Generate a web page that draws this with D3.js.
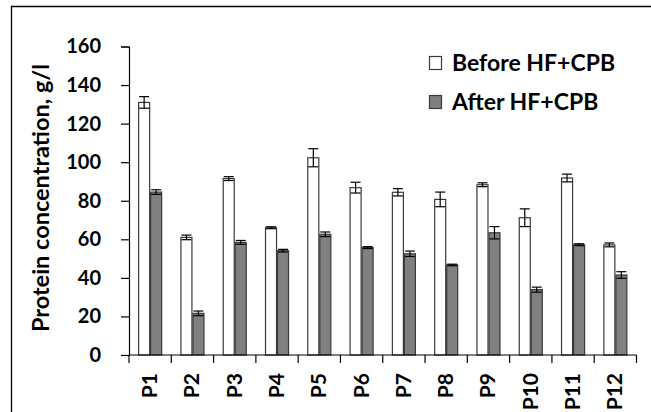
<!DOCTYPE html>
<html>
<head>
<meta charset="utf-8">
<script src="https://cdn.jsdelivr.net/npm/d3@7"></script>
<style>
  html, body { margin: 0; padding: 0; background: #fff; }
  svg { display: block; }
  text { font-family: Lato, "Open Sans", sans-serif; font-weight: bold; fill: #000; }
</style>
</head>
<body>
<svg id="chart" width="651" height="412"></svg>
<script>
// Patient samples
const categories = ["P1", "P2", "P3", "P4", "P5", "P6", "P7", "P8", "P9", "P10", "P11", "P12"];
const seriesNames = ["Before HF+CPB", "After HF+CPB"];
// Mean protein concentration, g/l
const beforeValues = [131, 61, 91.5, 66, 102.3, 86.8, 84.4, 80.7, 88.3, 71.2, 91.8, 57.1];
const afterValues  = [84.5, 21.6, 58.4, 54.1, 62.6, 55.7, 52.5, 46.7, 63.4, 33.9, 57.2, 41.5];
// Standard deviations
const beforeErrors = [3, 1.2, 1, 0.5, 4.7, 2.8, 1.9, 3.8, 1, 4.6, 2, 1];
const afterErrors  = [1.2, 1.2, 1, 0.7, 1.2, 0.5, 1.4, 0.4, 3.2, 1.3, 0.5, 1.7];
const yTicks = [0, 20, 40, 60, 80, 100, 120, 140, 160];

const fills = { "Before HF+CPB": "#ffffff", "After HF+CPB": "#808080" };

const svg = d3.select("#chart");

// outer frame
svg.append("path")
  .attr("d", "M11.5,412 L11.5,6.5 L651,6.5")
  .attr("fill", "none").attr("stroke", "#000").attr("stroke-width", 1.3);

const plot = { left: 129, right: 636.5, top: 46.5, bottom: 355 };

const x0 = d3.scaleBand().domain(categories).range([plot.left, plot.right]).padding(0);
const x1 = d3.scaleBand().domain(seriesNames).range([0, x0.bandwidth()])
  .paddingInner(0).paddingOuter(0.76);
const y = d3.scaleLinear().domain([0, 160]).range([plot.bottom, plot.top]);

const rows = categories.map((c, i) => ({
  cat: c,
  bars: [
    { s: seriesNames[0], v: beforeValues[i], e: beforeErrors[i] },
    { s: seriesNames[1], v: afterValues[i], e: afterErrors[i] }
  ]
}));

const groups = svg.append("g").selectAll("g").data(rows).join("g")
  .attr("transform", d => `translate(${x0(d.cat)},0)`);

groups.selectAll("rect").data(d => d.bars).join("rect")
  .attr("x", d => x1(d.s) + 0.5)
  .attr("width", x1.bandwidth() - 1)
  .attr("y", d => y(d.v))
  .attr("height", d => y(0) - y(d.v))
  .attr("fill", d => fills[d.s])
  .attr("stroke", "#3a3a3a")
  .attr("stroke-width", 1.2);

// error bars
const eb = groups.selectAll("g.err").data(d => d.bars).join("g").attr("class", "err")
  .attr("stroke", "#000").attr("stroke-width", 1.2).attr("fill", "none");
eb.append("line")
  .attr("x1", d => x1(d.s) + x1.bandwidth() / 2)
  .attr("x2", d => x1(d.s) + x1.bandwidth() / 2)
  .attr("y1", d => y(d.v + d.e)).attr("y2", d => y(d.v - d.e));
["+", "-"].forEach(sign => {
  eb.append("line")
    .attr("x1", d => x1(d.s) + x1.bandwidth() / 2 - 5)
    .attr("x2", d => x1(d.s) + x1.bandwidth() / 2 + 5)
    .attr("y1", d => y(sign === "+" ? d.v + d.e : d.v - d.e))
    .attr("y2", d => y(sign === "+" ? d.v + d.e : d.v - d.e));
});

// y axis
const yAxis = svg.append("g")
  .attr("transform", `translate(${plot.left},0)`)
  .call(d3.axisLeft(y).tickValues(yTicks).tickSize(8).tickPadding(20));
yAxis.select(".domain").attr("stroke", "#000").attr("stroke-width", 1.2);
yAxis.selectAll(".tick line").attr("stroke", "#000").attr("stroke-width", 1.2);
yAxis.selectAll(".tick text")
  .attr("font-size", 20).attr("font-family", "Lato, sans-serif")
  .attr("font-weight", "bold").attr("fill", "#000");

// x axis: baseline with ticks at category boundaries
const xAxis = svg.append("g").attr("transform", `translate(0,${plot.bottom})`);
xAxis.append("line")
  .attr("x1", plot.left).attr("x2", plot.right)
  .attr("stroke", "#000").attr("stroke-width", 1.2);
const boundaries = categories.map(c => x0(c)).concat([x0(categories[categories.length - 1]) + x0.bandwidth()]);
xAxis.selectAll("line.tick").data(boundaries).join("line").attr("class", "tick")
  .attr("x1", d => d).attr("x2", d => d).attr("y1", 0).attr("y2", 8)
  .attr("stroke", "#000").attr("stroke-width", 1.2);
xAxis.selectAll("text").data(categories).join("text")
  .attr("transform", d => `translate(${x0(d) + x0.bandwidth() / 2 + 7},18) rotate(-90)`)
  .attr("text-anchor", "end")
  .attr("font-size", 21)
  .text(d => d);

// y axis title
svg.append("text")
  .attr("transform", "translate(48.5,198) rotate(-90)")
  .attr("text-anchor", "middle")
  .attr("font-size", 23.5)
  .text("Protein concentration, g/l");

// legend
const legend = svg.append("g").selectAll("g").data(seriesNames).join("g")
  .attr("transform", (d, i) => `translate(429,${56 + i * 39})`);
legend.append("rect")
  .attr("x", 0.5).attr("y", 0.5).attr("width", 12).attr("height", 13)
  .attr("fill", d => fills[d]).attr("stroke", "#3a3a3a").attr("stroke-width", 1.2);
legend.append("text")
  .attr("x", 23).attr("y", 14.5)
  .attr("font-size", 23)
  .text(d => d);
</script>
</body>
</html>
